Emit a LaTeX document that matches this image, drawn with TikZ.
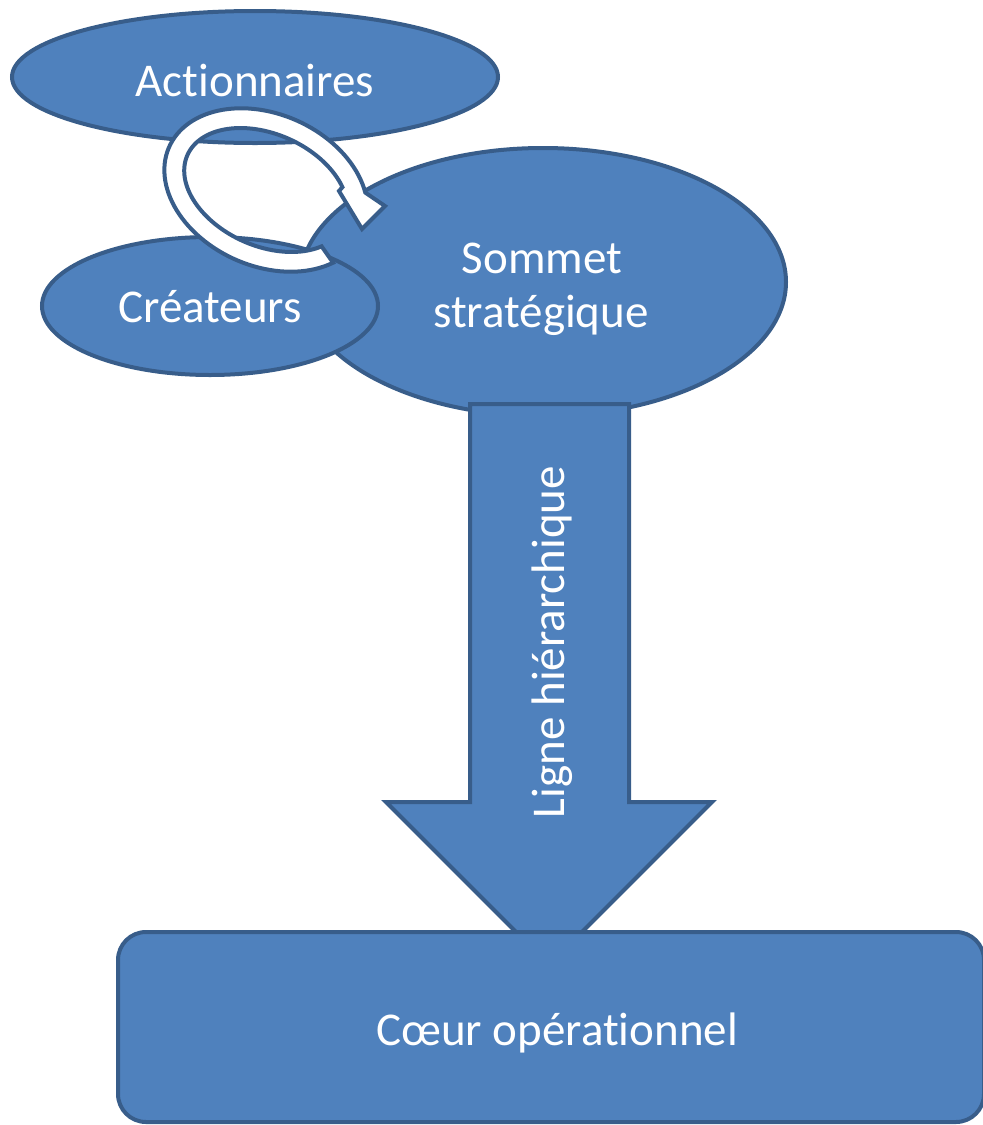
\documentclass[tikz,border=0pt]{standalone}
\usepackage{fontspec}
\setmainfont{Carlito}[Ligatures=NoCommon]
\usetikzlibrary{shapes.geometric}
\definecolor{boxfill}{HTML}{4F81BD}
\definecolor{boxline}{HTML}{385D8A}
\tikzset{
  blob/.style={draw=boxline, fill=boxfill, line width=4pt},
  oval/.style={blob, ellipse, inner sep=0pt},
  lbl/.style={text=white, font=\fontsize{47}{54}\selectfont, inner sep=0pt},
  loopband/.style={draw=boxline, fill=white, line width=4pt},
}
\begin{document}
\begin{tikzpicture}[x=1pt, y=-1pt]
\useasboundingbox (0,0) rectangle (983,1125);

% the three ovals
\node[oval, minimum width=486pt, minimum height=268pt] (sommet) at (543,282) {};
\node[oval, minimum width=336pt, minimum height=138pt] (createurs) at (210,306) {};
\node[oval, minimum width=486pt, minimum height=132pt] (actionnaires) at (255,77) {};

% curved arrow looping between the owners and the founders
\filldraw[loopband]
  plot[domain=31:330, samples=100, variable=\t]
    ({266+106*cos(\t)*cos(24)-76*sin(\t)*sin(24)}, {190+106*cos(\t)*sin(24)+76*sin(\t)*cos(24)})
  -- (385,206) -- (362,229) -- (339,191)
  -- plot[domain=323:31, samples=100, variable=\t]
    ({266+86*cos(\t)*cos(24)-56*sin(\t)*sin(24)}, {190+86*cos(\t)*sin(24)+56*sin(\t)*cos(24)})
  -- cycle;

% block arrow down the hierarchy
\filldraw[blob] (470,404) -- (629,404) -- (629,802) -- (712,802)
  -- (549,965) -- (386,802) -- (470,802) -- cycle;

% operating core
\node[blob, rectangle, rounded corners=28pt, minimum width=866pt, minimum height=190pt] (coeur) at (551,1027) {};

% labels
\node[lbl, anchor=base] (l-act) at (255,96) {Actionnaires};
\node[lbl, anchor=base] (l-cre) at (210,322) {Créateurs};
\node[lbl, anchor=base] (l-som1) at (542,273) {Sommet};
\node[lbl, anchor=base] (l-som2) at (541,327) {stratégique};
\node[lbl, anchor=base, rotate=90] (l-ligne) at (564,642) {Ligne hiérarchique};
\node[lbl, anchor=base] (l-coeur) at (557,1045) {Cœur opérationnel};
\end{tikzpicture}
\end{document}
